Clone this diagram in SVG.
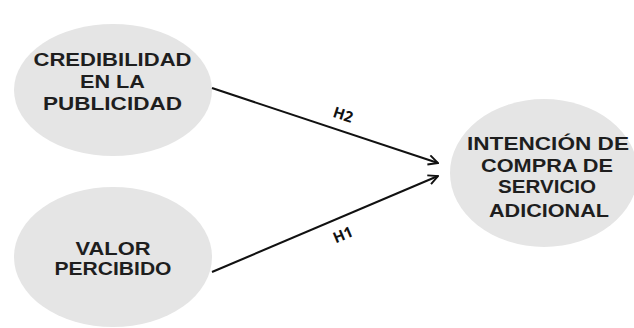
<svg xmlns="http://www.w3.org/2000/svg" width="634" height="328" viewBox="0 0 634 328">
<style>
.node ellipse{fill:#e5e5e5;}
.node text{font-family:"Liberation Sans",Arial,sans-serif;font-weight:bold;font-size:17.5px;fill:#1e1e1e;text-anchor:middle;}
.conn line{stroke:#111;stroke-width:2;fill:none;}
.lbl{font-family:"Open Sans","Liberation Sans",sans-serif;font-weight:bold;font-size:15px;fill:#111;text-anchor:middle;}
</style>
<defs>
<marker id="arr" viewBox="0 0 10 10" refX="9" refY="5" markerWidth="6" markerHeight="6" orient="auto" markerUnits="strokeWidth">
<path d="M1,1 L9,5 L1,9" fill="none" stroke="#111" stroke-width="1.6"/>
</marker>
</defs>
<rect width="634" height="328" fill="#fff"/>
<g id="credibilidad" class="node">
<ellipse cx="113" cy="90" rx="99" ry="66"/>
<text x="112.5" y="66" textLength="158" lengthAdjust="spacingAndGlyphs">CREDIBILIDAD</text>
<text x="112.5" y="88" textLength="65" lengthAdjust="spacingAndGlyphs">EN LA</text>
<text x="112.5" y="110" textLength="139" lengthAdjust="spacingAndGlyphs">PUBLICIDAD</text>
</g>
<g id="valor" class="node">
<ellipse cx="113" cy="257" rx="99" ry="70"/>
<text x="113" y="255" textLength="75" lengthAdjust="spacingAndGlyphs">VALOR</text>
<text x="113" y="275" textLength="117" lengthAdjust="spacingAndGlyphs">PERCIBIDO</text>
</g>
<g id="intencion" class="node">
<ellipse cx="544" cy="173" rx="94" ry="74"/>
<text x="548" y="150" textLength="162" lengthAdjust="spacingAndGlyphs">INTENCIÓN DE</text>
<text x="547" y="171.5" textLength="132" lengthAdjust="spacingAndGlyphs">COMPRA DE</text>
<text x="547" y="193" textLength="98" lengthAdjust="spacingAndGlyphs">SERVICIO</text>
<text x="549" y="216.5" textLength="120" lengthAdjust="spacingAndGlyphs">ADICIONAL</text>
</g>
<g id="connectors" class="conn">
<line x1="212" y1="88" x2="438" y2="163" marker-end="url(#arr)"/>
<line x1="212" y1="272" x2="438" y2="176" marker-end="url(#arr)"/>
<text class="lbl" x="343" y="120" transform="rotate(18.4 343 115)">H2</text>
<text class="lbl" x="343" y="240" transform="rotate(-22.9 343 235)">H1</text>
</g>
</svg>
